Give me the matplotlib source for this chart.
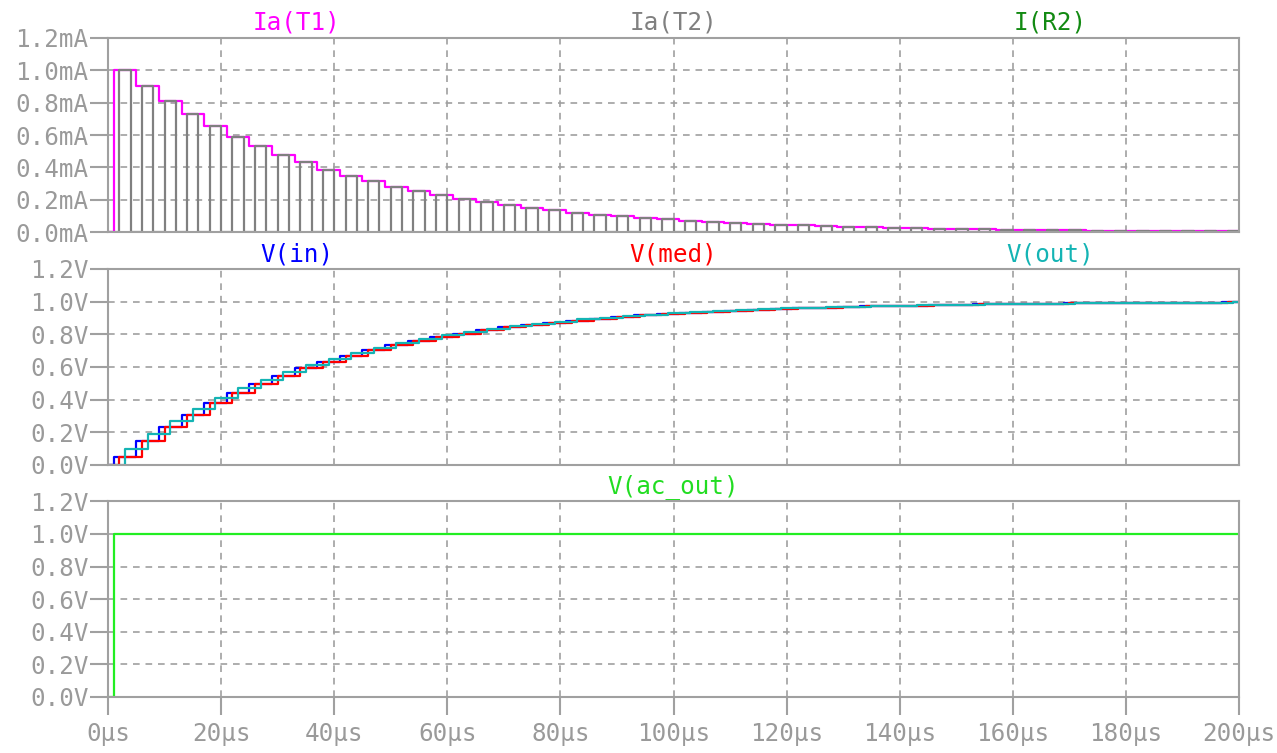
import numpy as np
import matplotlib
matplotlib.use("Agg")
import matplotlib.pyplot as plt
from matplotlib.ticker import FuncFormatter, MultipleLocator

# step instants (µs) of the staircase
t_step = [1, 5, 9, 13, 17, 21, 25, 29, 33, 37, 41, 45, 49, 53, 57, 61, 65,
          69, 73, 77, 81, 85, 89, 93, 97, 101, 105, 109, 113, 117, 121, 125,
          129, 133, 137, 141, 145, 149, 153, 157, 161, 165, 169, 173, 177,
          181, 185, 189, 193, 197]

# Ia(T1) levels in mA (Ia(T2) pulses use the same heights)
ia_t1 = [1.0, 0.9, 0.81, 0.729, 0.656, 0.590, 0.531, 0.478, 0.431, 0.387,
         0.349, 0.314, 0.282, 0.254, 0.229, 0.206, 0.185, 0.167, 0.150, 0.135,
         0.122, 0.109, 0.099, 0.089, 0.080, 0.072, 0.065, 0.058, 0.052, 0.047,
         0.042, 0.038, 0.034, 0.031, 0.028, 0.025, 0.023, 0.020, 0.018, 0.016,
         0.015, 0.013, 0.012, 0.011, 0.010, 0.009, 0.008, 0.007, 0.006, 0.006]

# node voltages after each step (V)
v_in = [0.05, 0.145, 0.231, 0.307, 0.377, 0.439, 0.495, 0.546, 0.591, 0.632,
        0.669, 0.702, 0.732, 0.759, 0.783, 0.804, 0.824, 0.842, 0.857, 0.872,
        0.884, 0.896, 0.906, 0.916, 0.924, 0.932, 0.939, 0.945, 0.950, 0.955,
        0.960, 0.964, 0.967, 0.971, 0.974, 0.976, 0.979, 0.981, 0.983, 0.984,
        0.986, 0.987, 0.989, 0.990, 0.991, 0.992, 0.992, 0.993, 0.994, 0.995]
v_med = list(v_in)
v_out = [0.10, 0.19, 0.271, 0.344, 0.410, 0.469, 0.522, 0.570, 0.613, 0.651,
         0.686, 0.718, 0.746, 0.771, 0.794, 0.815, 0.833, 0.850, 0.865, 0.878,
         0.891, 0.902, 0.911, 0.920, 0.928, 0.935, 0.942, 0.948, 0.953, 0.958,
         0.962, 0.966, 0.969, 0.972, 0.975, 0.977, 0.980, 0.982, 0.984, 0.985,
         0.987, 0.988, 0.989, 0.990, 0.991, 0.992, 0.993, 0.994, 0.994, 0.995]

t_ac = [0, 1, 200]
v_ac = [0, 1.0, 1.0]

# delays of the T2 pulse / med / out nodes relative to t_step (µs)
t2_on, t2_off = 1, 3
med_delay, out_delay = 1, 2
t_end = 200

plt.rcParams['font.family'] = ['DejaVu Sans Mono']
plt.rcParams['font.size'] = 17.5

GRID = '#a0a0a0'
TXT = '#9a9a9a'

fig = plt.figure(figsize=(12.77, 7.53), dpi=100)
W = 1131 / 1277
L = 108 / 1277
ax1 = fig.add_axes([L, 0.6915, W, 0.2584])
ax2 = fig.add_axes([L, 0.3825, W, 0.2603])
ax3 = fig.add_axes([L, 0.0744, W, 0.2599])


def stairs(ax, t, v, delay, color, lw=1.6):
    tt = np.r_[0, np.asarray(t) + delay, t_end]
    vv = np.r_[0, v, v[-1]]
    ax.step(tt, vv, where='post', color=color, lw=lw)


# top panel: currents
stairs(ax1, t_step, ia_t1, 0, '#ff00ff')
px, py = [0], [0]
for t, lev in zip(t_step, ia_t1):
    px += [t + t2_on, t + t2_on, t + t2_off, t + t2_off]
    py += [0, lev, lev, 0]
px.append(t_end)
py.append(0)
ax1.plot(px, py, color='#808080', lw=1.6)
ax1.plot([0, t_end], [0, 0], color='#128a12', lw=1.8)

# middle panel: voltages
stairs(ax2, t_step, v_in, 0, '#0000ff')
stairs(ax2, t_step, v_med, med_delay, '#ff0000')
stairs(ax2, t_step, v_out, out_delay, '#14b4b4')

# bottom panel
ax3.plot(t_ac, v_ac, color='#22ee22', lw=1.6, drawstyle='steps-post')

titles = [
    (ax1, [("Ia(T1)", '#ff00ff'), ("Ia(T2)", '#808080'), ("I(R2)", '#128a12')]),
    (ax2, [("V(in)", '#0000ff'), ("V(med)", '#ff0000'), ("V(out)", '#14b4b4')]),
    (ax3, [(None, None), ("V(ac_out)", '#22dd22'), (None, None)]),
]
for ax, labs in titles:
    for xf, (s, c) in zip([1 / 6, 0.5, 5 / 6], labs):
        if s:
            ax.text(xf, 1.04, s, color=c, ha='center', va='baseline',
                    transform=ax.transAxes, fontsize=17.5, zorder=5)

for ax in (ax1, ax2, ax3):
    ax.set_xlim(0, 200)
    ax.set_ylim(0, 1.2)
    ax.xaxis.set_major_locator(MultipleLocator(20))
    ax.yaxis.set_major_locator(MultipleLocator(0.2))
    ax.grid(True, color=GRID, lw=1.2, linestyle=(0, (4, 3.5)))
    ax.set_axisbelow(True)
    for sp in ax.spines.values():
        sp.set_color(GRID)
        sp.set_linewidth(1.5)
    ax.tick_params(axis='y', length=13, width=1.5, color=GRID, pad=1,
                   labelcolor=TXT, labelsize=17.5)
    ax.tick_params(axis='x', length=13, width=1.5, color=GRID, pad=5,
                   labelcolor=TXT, labelsize=17.5)

ax1.yaxis.set_major_formatter(FuncFormatter(lambda v, p: f"{v:.1f}mA"))
ax2.yaxis.set_major_formatter(FuncFormatter(lambda v, p: f"{v:.1f}V"))
ax3.yaxis.set_major_formatter(FuncFormatter(lambda v, p: f"{v:.1f}V"))
for ax in (ax1, ax2):
    ax.tick_params(axis='x', length=0, labelbottom=False)
ax3.xaxis.set_major_formatter(FuncFormatter(lambda v, p: f"{v:.0f}µs"))

fig.savefig("out.png", dpi=100)
